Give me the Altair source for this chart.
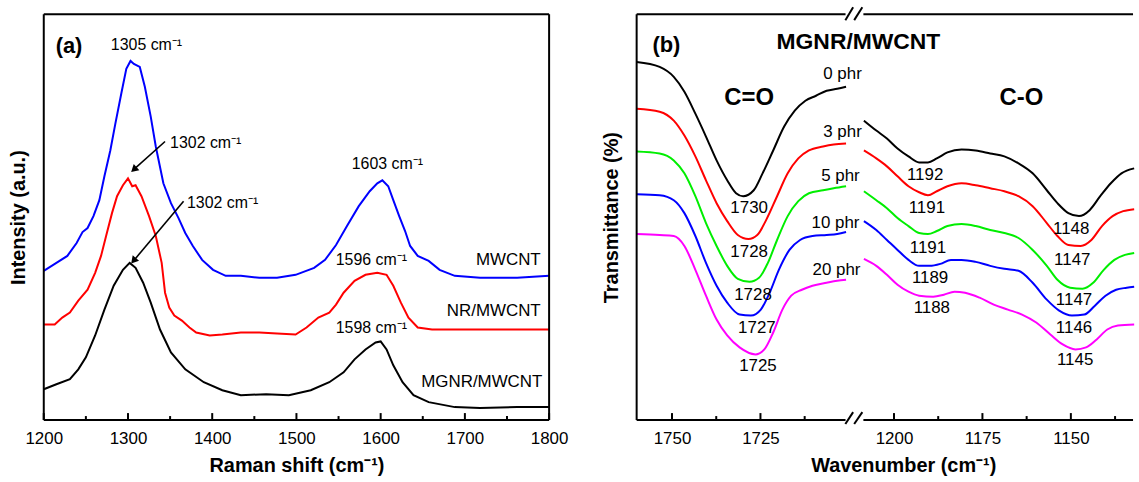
import altair as alt
import pandas as pd

FONT = "Liberation Sans"
SUP = "cm\u207b\u00b9"

# ---------------- Panel (a): Raman spectra ----------------
raman_names = ["MWCNT", "NR/MWCNT", "MGNR/MWCNT"]
raman_colors = ["#0000ff", "#ff0000", "#000000"]

mwcnt_w = [1200, 1215, 1228, 1239, 1246, 1252, 1259, 1266, 1272, 1279, 1285, 1292, 1298, 1303, 1307, 1314, 1320,
           1327, 1333, 1342, 1351, 1360, 1368, 1377, 1388, 1401, 1416, 1434, 1456, 1477, 1499, 1521, 1534, 1547,
           1560, 1574, 1587, 1596, 1602, 1609, 1615, 1622, 1629, 1635, 1644, 1657, 1670, 1688, 1718, 1762, 1800]
mwcnt_i = [150, 158, 165, 178, 189, 193, 205, 221, 245, 271, 298, 328, 353, 361, 358, 355, 335, 305, 275, 238,
           218, 203, 188, 175, 161, 151, 145, 145, 143, 143, 146, 153, 161, 176, 195, 215, 230, 238, 241, 235,
           221, 205, 190, 175, 165, 160, 151, 145, 143, 143, 145]

nr_w = [1200, 1213, 1222, 1231, 1241, 1252, 1261, 1268, 1274, 1281, 1287, 1294, 1300, 1305, 1309, 1316, 1325, 1333,
        1340, 1344, 1349, 1355, 1364, 1373, 1381, 1397, 1412, 1434, 1456, 1477, 1499, 1512, 1526, 1539, 1547, 1556,
        1569, 1582, 1596, 1607, 1615, 1624, 1633, 1644, 1661, 1696, 1740, 1800]
nr_i = [96, 96, 103, 108, 120, 131, 148, 165, 185, 208, 225, 236, 243, 235, 236, 225, 205, 185, 158, 128,
        113, 105, 100, 93, 88, 85, 86, 88, 88, 87, 86, 93, 103, 108, 116, 128, 140, 146, 148, 146,
        135, 118, 103, 93, 91, 91, 91, 91]

mgnr_w = [1200, 1215, 1231, 1241, 1250, 1261, 1272, 1283, 1294, 1302, 1309, 1318, 1327, 1338, 1351, 1368, 1390,
          1412, 1434, 1464, 1491, 1517, 1539, 1556, 1569, 1582, 1594, 1600, 1607, 1615, 1626, 1639, 1657, 1688,
          1718, 1762, 1800]
mgnr_i = [31, 36, 41, 51, 63, 85, 111, 135, 151, 158, 153, 138, 118, 91, 68, 51, 38, 30, 25, 26,
          25, 30, 38, 48, 61, 71, 78, 79, 71, 55, 38, 25, 18, 13, 12, 13, 13]

raman_major = [1200, 1300, 1400, 1500, 1600, 1700, 1800]
raman_minor = [1250, 1350, 1450, 1550, 1650, 1750]

# annotations (label, x in cm-1, y in intensity units)
raman_peak_labels = [f"1305 {SUP}", f"1603 {SUP}", f"1596 {SUP}", f"1598 {SUP}"]
raman_peak_x = [1322, 1608, 1589, 1589]
raman_peak_y = [377, 257, 161, 93]
raman_arrow_labels = [f"1302 {SUP}", f"1302 {SUP}"]
raman_arrow_lx = [1350, 1370]
raman_arrow_ly = [278, 218]
arrow_x0 = [1344, 1366]
arrow_y0 = [280, 220]
arrow_x1 = [1308, 1307.5]
arrow_y1 = [252.7, 161]
arrow_angle = [228, 220]
raman_name_x = [1790, 1790, 1792]
raman_name_y = [161, 110, 38]

# ---------------- Panel (b): FTIR ----------------
ftir_names = ["0 phr", "3 phr", "5 phr", "10 phr", "20 phr"]
ftir_colors = ["#000000", "#ff0000", "#00ee00", "#0000ff", "#ff00ff"]

p0_lw = [1760, 1753.5, 1749.5, 1746.5, 1743.4, 1740.4, 1737.4, 1734.4, 1731.9, 1729.9, 1726.9, 1724.4, 1721.4,
         1718.3, 1715.3, 1712.3, 1709.3, 1706.3, 1703.3, 1700.8]
p0_lt = [360, 355, 345, 330, 308, 285, 261, 241, 228, 225, 231, 248, 271, 295, 311, 321, 326, 331, 333, 335]
p0_rw = [1208.5, 1205.0, 1202.0, 1199.0, 1195.9, 1192.9, 1190.4, 1187.9, 1184.9, 1180.9, 1176.9, 1172.8, 1168.8,
         1164.8, 1160.8, 1156.8, 1153.8, 1150.7, 1147.7, 1144.7, 1141.7, 1138.7, 1135.7, 1132.1]
p0_rt = [301, 291, 283, 273, 265, 259, 259, 263, 269, 272, 271, 268, 265, 258, 248, 231, 218, 208, 205, 211, 225,
         238, 248, 253]

p3_lw = [1760, 1753.5, 1749.5, 1746.5, 1743.4, 1740.4, 1737.4, 1734.4, 1731.4, 1728.4, 1725.9, 1723.4, 1720.3,
         1717.3, 1714.3, 1711.3, 1707.3, 1704.3, 1700.8]
p3_lt = [313, 310, 301, 286, 265, 241, 218, 200, 186, 182, 186, 201, 225, 248, 263, 271, 275, 277, 278]
p3_rw = [1208.5, 1205.0, 1202.0, 1199.0, 1195.9, 1192.9, 1190.4, 1187.9, 1184.9, 1180.9, 1176.9, 1172.8, 1168.8,
         1164.8, 1160.8, 1156.8, 1153.8, 1150.7, 1147.2, 1144.2, 1141.2, 1138.2, 1135.2, 1132.1]
p3_rt = [271, 263, 255, 245, 235, 229, 226, 230, 235, 238, 236, 233, 230, 225, 215, 198, 185, 176, 175, 181, 195,
         205, 210, 212]

p5_lw = [1760, 1753.5, 1749.5, 1746.5, 1743.4, 1740.4, 1737.4, 1734.4, 1731.4, 1728.1, 1725.4, 1722.9, 1720.3,
         1717.3, 1714.3, 1711.3, 1707.3, 1704.3, 1700.8]
p5_lt = [270, 268, 261, 248, 225, 198, 175, 155, 142, 139, 143, 158, 181, 205, 220, 228, 231, 233, 235]
p5_rw = [1208.5, 1205.0, 1202.0, 1199.0, 1195.9, 1192.9, 1190.4, 1187.9, 1184.9, 1180.9, 1176.9, 1172.8, 1168.8,
         1164.8, 1160.8, 1156.8, 1153.8, 1150.2, 1146.7, 1143.7, 1140.7, 1137.7, 1134.7, 1132.1]
p5_rt = [230, 221, 213, 203, 195, 188, 187, 190, 195, 197, 195, 191, 188, 183, 171, 155, 141, 133, 132, 138, 151,
         161, 166, 168]

p10_lw = [1760, 1753.5, 1749.5, 1746.5, 1743.4, 1740.4, 1737.4, 1734.4, 1730.9, 1727.7, 1724.9, 1722.4, 1719.8,
          1716.8, 1713.8, 1710.3, 1706.3, 1703.3, 1700.8]
p10_lt = [227, 226, 221, 208, 185, 158, 135, 118, 106, 105, 111, 128, 151, 171, 181, 185, 186, 187, 189]
p10_rw = [1208.5, 1205.0, 1202.0, 1199.0, 1195.9, 1192.9, 1189.9, 1186.9, 1183.9, 1180.9, 1176.9, 1172.8, 1168.8,
          1164.8, 1160.8, 1156.8, 1153.3, 1149.7, 1146.2, 1143.2, 1140.2, 1137.2, 1134.2, 1132.1]
p10_rt = [200, 191, 181, 171, 161, 155, 155, 157, 161, 161, 159, 155, 152, 150, 138, 121, 110, 105, 106, 115, 125,
          131, 133, 134]

p20_lw = [1760, 1753.5, 1749.5, 1746.5, 1743.4, 1740.4, 1737.4, 1734.4, 1730.9, 1726.4, 1723.9, 1721.4, 1718.8,
          1716.3, 1713.3, 1710.3, 1706.3, 1703.3, 1700.8]
p20_lt = [187, 186, 185, 175, 151, 125, 101, 85, 73, 66, 71, 88, 111, 125, 131, 135, 138, 140, 141]
p20_rw = [1208.5, 1205.0, 1202.0, 1199.0, 1195.9, 1192.9, 1188.9, 1185.9, 1182.9, 1179.9, 1175.8, 1171.8, 1167.8,
          1163.8, 1159.8, 1155.8, 1152.3, 1148.7, 1145.7, 1142.7, 1139.7, 1136.7, 1132.1]
p20_rt = [162, 155, 146, 136, 129, 125, 124, 126, 129, 128, 123, 116, 111, 106, 98, 86, 76, 71, 73, 81, 91, 95, 96]

ftir_major = [1750, 1725, 1200, 1175, 1150]
ftir_minor = [1737.5, 1712.5, 1187.5, 1162.5, 1137.5]

ftir_phr_x = [1701.8, 1701.8, 1702.4, 1703.8, 1703.5]
ftir_phr_y = [348, 290, 245, 198, 151]
co1_labels = ["1730", "1728", "1728", "1727", "1725"]
co1_x = [1728.2, 1728.2, 1727.1, 1726.0, 1725.7]
co1_y = [213, 169, 126, 93, 54]
co2_labels = ["1192", "1191", "1191", "1189", "1188"]
co2_x = [1191.2, 1190.7, 1190.4, 1189.8, 1189.3]
co2_y = [246, 213, 173, 143, 113]
co3_labels = ["1148", "1147", "1147", "1146", "1145"]
co3_x = [1149.9, 1149.6, 1149.1, 1149.1, 1148.8]
co3_y = [192, 161, 121, 92, 60]

# ---------------- geometry ----------------
W_A, W_B, H = 508, 499, 408
TOP = 408
P_MAX = W_B / 3.556
CUT = 1450  # wavenumbers above this belong to the left (C=O) segment
RIGHT_OFF = 1272.75


def disp(w):
    return 1760 - w if w >= CUT else RIGHT_OFF - w


CALC_P = f"datum.w >= {CUT} ? 1760 - datum.w : {RIGHT_OFF} - datum.w"
CALC_P2 = f"datum.w2 >= {CUT} ? 1760 - datum.w2 : {RIGHT_OFF} - datum.w2"

# ================= Panel (a) =================
raman_df = pd.concat([
    pd.DataFrame({"w": w, "i": i, "s": n})
    for n, w, i in zip(raman_names, [mwcnt_w, nr_w, mgnr_w], [mwcnt_i, nr_i, mgnr_i])
])

xa = alt.X("w:Q", scale=alt.Scale(domain=[1200, 1800], nice=False, zero=False),
           axis=alt.Axis(values=raman_major, format="d", title=f"Raman shift ({SUP})", labelFlush=False))
ya = alt.Y("i:Q", scale=alt.Scale(domain=[0, TOP], nice=False, zero=False),
           axis=alt.Axis(title="Intensity (a.u.)", labels=False))

lines_a = alt.Chart(raman_df).mark_line(strokeWidth=2).encode(
    x=xa, y=ya,
    color=alt.Color("s:N", scale=alt.Scale(domain=raman_names, range=raman_colors), legend=None),
)

frame_a_df = pd.DataFrame({
    "w": [1200, 1200, 1200, 1800], "w2": [1800, 1800, 1200, 1800],
    "i": [TOP, 0, 0, 0], "i2": [TOP, 0, TOP, TOP],
})
ticks_a_df = pd.DataFrame({
    "w": raman_major + raman_minor, "w2": raman_major + raman_minor,
    "i": [0] * (len(raman_major) + len(raman_minor)),
    "i2": [7] * len(raman_major) + [4] * len(raman_minor),
})
frame_a = alt.Chart(frame_a_df).mark_rule(strokeWidth=2, color="black").encode(
    x=xa, x2=alt.X2("w2"), y=ya, y2=alt.Y2("i2"))
ticks_a = alt.Chart(ticks_a_df).mark_rule(strokeWidth=2, color="black").encode(
    x=xa, x2=alt.X2("w2"), y=ya, y2=alt.Y2("i2"))

peak_a = alt.Chart(pd.DataFrame({"w": raman_peak_x, "i": raman_peak_y, "t": raman_peak_labels})).mark_text(
    fontSize=16, font=FONT, color="black", align="center", baseline="middle").encode(x=xa, y=ya, text="t:N")
arrow_lab = alt.Chart(pd.DataFrame({"w": raman_arrow_lx, "i": raman_arrow_ly, "t": raman_arrow_labels})).mark_text(
    fontSize=16, font=FONT, color="black", align="left", baseline="middle").encode(x=xa, y=ya, text="t:N")
arrow_df = pd.DataFrame({"w": arrow_x0, "w2": arrow_x1, "i": arrow_y0, "i2": arrow_y1})
arrow_line = alt.Chart(arrow_df).mark_rule(strokeWidth=1.6, color="black").encode(
    x=xa, x2=alt.X2("w2"), y=ya, y2=alt.Y2("i2"))
arrow_head = alt.Chart(pd.DataFrame({"w": arrow_x1, "i": arrow_y1, "ang": arrow_angle})).mark_point(
    shape="triangle", filled=True, size=70, color="black", opacity=1).encode(
    x=xa, y=ya, angle=alt.Angle("ang:Q", scale=None))
names_a = alt.Chart(pd.DataFrame({"w": raman_name_x, "i": raman_name_y, "t": raman_names})).mark_text(
    fontSize=17, font=FONT, color="black", align="right", baseline="middle").encode(x=xa, y=ya, text="t:N")
tag_a = alt.Chart(pd.DataFrame({"w": [1230], "i": [376], "t": ["(a)"]})).mark_text(
    fontSize=22, font=FONT, fontWeight="bold", color="black", align="center", baseline="middle").encode(
    x=xa, y=ya, text="t:N")

panel_a = alt.layer(lines_a, frame_a, ticks_a, peak_a, arrow_lab, arrow_line, arrow_head, names_a, tag_a).properties(
    width=W_A, height=H)

# ================= Panel (b) =================
ftir_rows = []
for n, lw, lt, rw, rt in zip(
        ftir_names,
        [p0_lw, p3_lw, p5_lw, p10_lw, p20_lw], [p0_lt, p3_lt, p5_lt, p10_lt, p20_lt],
        [p0_rw, p3_rw, p5_rw, p10_rw, p20_rw], [p0_rt, p3_rt, p5_rt, p10_rt, p20_rt]):
    ftir_rows.append(pd.DataFrame({"w": lw, "i": lt, "sb": n, "seg": "CO_double"}))
    ftir_rows.append(pd.DataFrame({"w": rw, "i": rt, "sb": n, "seg": "CO_single"}))
ftir_df = pd.concat(ftir_rows)

label_expr = (f"datum.value < 61 ? format(1760 - datum.value, 'd') : "
              f"format({RIGHT_OFF} - datum.value, 'd')")
xb = alt.X("p:Q", scale=alt.Scale(domain=[0, P_MAX], nice=False, zero=False),
           axis=alt.Axis(values=[disp(v) for v in ftir_major], labelExpr=label_expr,
                         title=f"Wavenumber ({SUP})", labelFlush=False, titleX=268))
yb = alt.Y("i:Q", scale=alt.Scale(domain=[0, TOP], nice=False, zero=False),
           axis=alt.Axis(title="Transmittance (%)", labels=False))


def bchart(df):
    return alt.Chart(df).transform_calculate(p=CALC_P)


def bchart2(df):
    return alt.Chart(df).transform_calculate(p=CALC_P, p2=CALC_P2)


lines_b = bchart(ftir_df).mark_line(strokeWidth=2, interpolate="monotone").encode(
    x=xb, y=yb,
    color=alt.Color("sb:N", scale=alt.Scale(domain=ftir_names, range=ftir_colors), legend=None),
    detail="seg:N",
)

w_gap_left = 1760 - 59.05
w_gap_right = RIGHT_OFF - 64.1
w_end = RIGHT_OFF - P_MAX
frame_b_df = pd.DataFrame({
    "w": [1760, w_gap_right, 1760, w_gap_right, 1760],
    "w2": [w_gap_left, w_end, w_gap_left, w_end, 1760],
    "i": [TOP, TOP, 0, 0, 0],
    "i2": [TOP, TOP, 0, 0, TOP],
})
frame_b = bchart2(frame_b_df).mark_rule(strokeWidth=2, color="black").encode(
    x=xb, x2=alt.X2("p2"), y=yb, y2=alt.Y2("i2"))

slash_df = pd.DataFrame({
    "w": [1760 - 59.0, 1760 - 61.5, 1760 - 59.0, 1760 - 61.5],
    "w2": [1760 - 61.2, 1760 - 63.8, 1760 - 61.2, 1760 - 63.8],
    "i": [TOP - 6, TOP - 6, -4, -4],
    "i2": [TOP + 7, TOP + 7, 8, 8],
})
slash_b = bchart2(slash_df).mark_rule(strokeWidth=2, color="black").encode(
    x=xb, x2=alt.X2("p2"), y=yb, y2=alt.Y2("i2"))

ticks_b_df = pd.DataFrame({
    "w": ftir_major + ftir_minor, "w2": ftir_major + ftir_minor,
    "i": [0] * (len(ftir_major) + len(ftir_minor)),
    "i2": [7] * len(ftir_major) + [4] * len(ftir_minor),
})
ticks_b = bchart2(ticks_b_df).mark_rule(strokeWidth=2, color="black").encode(
    x=xb, x2=alt.X2("p2"), y=yb, y2=alt.Y2("i2"))


def text_b(xs, ys, labels, size=17, weight="normal"):
    return bchart(pd.DataFrame({"w": xs, "i": ys, "t": labels})).mark_text(
        fontSize=size, font=FONT, fontWeight=weight, color="black", align="center", baseline="middle").encode(
        x=xb, y=yb, text="t:N")


phr_b = text_b(ftir_phr_x, ftir_phr_y, ftir_names)
co1_b = text_b(co1_x, co1_y, co1_labels)
co2_b = text_b(co2_x, co2_y, co2_labels)
co3_b = text_b(co3_x, co3_y, co3_labels)
tag_b = text_b([1751.6], [377], ["(b)"], size=22, weight="bold")
head_b = text_b([1760 - 62.7], [380], ["MGNR/MWCNT"], size=23, weight="bold")
grp_b = text_b([1728.2, 1164.0], [324, 324], ["C=O", "C-O"], size=24, weight="bold")

panel_b = alt.layer(lines_b, frame_b, slash_b, ticks_b, phr_b, co1_b, co2_b, co3_b, tag_b, head_b, grp_b).properties(
    width=W_B, height=H)

chart = alt.hconcat(panel_a, panel_b, spacing=88, bounds="flush").resolve_scale(
    color="independent"
).properties(
    padding={"left": 9, "top": 5, "right": 0, "bottom": 0}
).configure(font=FONT).configure_view(stroke=None).configure_axis(
    grid=False, domain=False, ticks=False, labelFontSize=17, labelColor="black", labelFont=FONT,
    titleFontSize=20, titleFontWeight="bold", titleColor="black", titleFont=FONT,
).configure_axisX(labelPadding=11, titlePadding=9, labelOverlap=False).configure_axisY(titlePadding=15)

chart.save("out.html", embed_options={"renderer": "svg", "actions": False})
